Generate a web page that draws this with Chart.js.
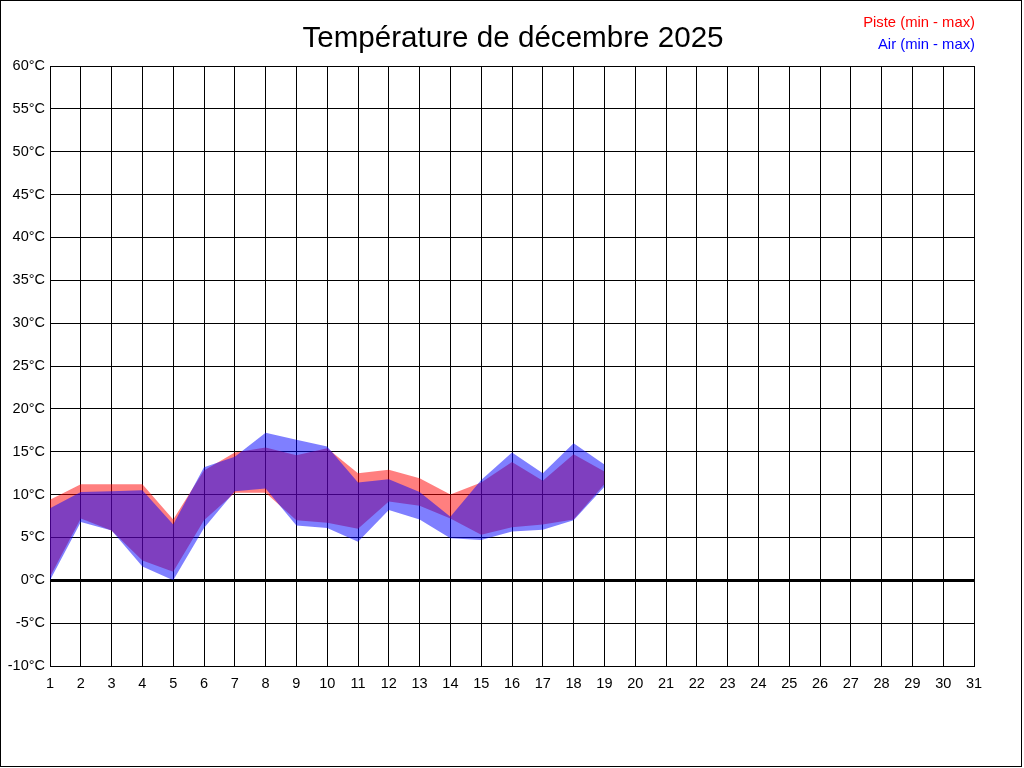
<!DOCTYPE html>
<html>
<head>
<meta charset="utf-8">
<title>Température de décembre 2025</title>
<script src="https://cdn.jsdelivr.net/npm/chart.js@4.4.1/dist/chart.umd.min.js"></script>
<style>
  html, body { margin: 0; padding: 0; background: #fff; overflow: hidden; }
  canvas { display: block; }
</style>
</head>
<body>
<canvas id="tempChart" width="1024" height="768"></canvas>
<script>
// days of the month (x axis)
var days = [];
for (var d = 1; d <= 31; d++) { days.push(String(d)); }

// values, days 1..19
var pisteMin = [0.4, 7.2, 5.8, 2.3, 1.0, 7.0, 10.2, 10.2, 7.0, 6.7, 6.0, 9.2, 8.7, 7.2, 5.3, 6.2, 6.5, 7.1, 11.2];
var pisteMax = [9.4, 11.2, 11.2, 11.2, 7.1, 12.8, 14.9, 15.5, 14.6, 15.4, 12.5, 12.9, 11.9, 10.0, 11.4, 13.8, 11.6, 14.7, 12.7];
var airMin   = [0.0, 6.8, 5.8, 1.6, 0.0, 6.1, 10.4, 10.7, 6.4, 6.1, 4.5, 8.2, 7.1, 4.9, 4.7, 5.7, 5.9, 7.0, 10.9];
var airMax   = [8.4, 10.3, 10.4, 10.5, 6.5, 13.2, 14.4, 17.2, 16.4, 15.6, 11.4, 11.8, 10.3, 7.4, 11.7, 14.9, 12.5, 16.0, 13.5];

var title = 'Température de décembre 2025';
var legendPiste = 'Piste (min - max)';
var legendAir = 'Air (min - max)';

var fontFamily = '"Liberation Sans", Arial, sans-serif';

// title, legend texts and outer frame
var decorPlugin = {
    id: 'decor',
    beforeDraw: function(chart) {
        var ctx = chart.ctx;
        ctx.save();
        ctx.fillStyle = '#fff';
        ctx.fillRect(0, 0, chart.width, chart.height);
        ctx.restore();
    },
    afterDraw: function(chart) {
        var ctx = chart.ctx;
        ctx.save();
        ctx.fillStyle = '#000';
        ctx.font = '29.6px ' + fontFamily;
        ctx.textAlign = 'center';
        ctx.textBaseline = 'alphabetic';
        ctx.fillText(title, 513, 47);

        ctx.font = '14.8px ' + fontFamily;
        ctx.textAlign = 'right';
        ctx.fillStyle = '#ff0000';
        ctx.fillText(legendPiste, 975, 27);
        ctx.fillStyle = '#0000ff';
        ctx.fillText(legendAir, 975, 49);

        ctx.strokeStyle = '#000';
        ctx.lineWidth = 1;
        ctx.strokeRect(0.5, 0.5, 1021, 766);
        ctx.restore();
    }
};

function band(data, color, fill) {
    return {
        data: data,
        borderWidth: 0,
        borderColor: 'rgba(0,0,0,0)',
        backgroundColor: color,
        pointRadius: 0,
        pointHoverRadius: 0,
        tension: 0,
        fill: fill
    };
}

var config = {
    type: 'line',
    data: {
        labels: days,
        datasets: [
            // air drawn on top of piste
            band(airMin, 'rgba(0,0,0,0)', false),
            band(airMax, 'rgba(0,0,255,0.5)', '-1'),
            band(pisteMin, 'rgba(0,0,0,0)', false),
            band(pisteMax, 'rgba(255,0,0,0.5)', '-1')
        ]
    },
    options: {
        responsive: false,
        animation: false,
        events: [],
        layout: {
            padding: { left: 0, right: 50, top: 66, bottom: 0 }
        },
        plugins: {
            legend: { display: false },
            title: { display: false },
            tooltip: { enabled: false }
        },
        scales: {
            x: {
                offset: false,
                afterFit: function(scale) { scale.height = 102; },
                grid: {
                    color: '#000',
                    lineWidth: 1,
                    drawTicks: false
                },
                border: { display: true, color: '#000', width: 1 },
                ticks: {
                    color: '#000',
                    padding: 9,
                    maxRotation: 0,
                    autoSkip: false,
                    font: { family: fontFamily, size: 14.5 }
                }
            },
            y: {
                min: -10,
                max: 60,
                afterFit: function(scale) { scale.width = 50; },
                grid: {
                    color: '#000',
                    lineWidth: function(c) { return c.tick && c.tick.value === 0 ? 3 : 1; },
                    drawTicks: false
                },
                border: { display: true, color: '#000', width: 1 },
                ticks: {
                    stepSize: 5,
                    color: '#000',
                    padding: 5,
                    font: { family: fontFamily, size: 14.5 },
                    callback: function(v) { return v + '°C'; }
                }
            }
        }
    },
    plugins: [decorPlugin]
};

var tempChart = new Chart(document.getElementById('tempChart').getContext('2d'), config);
</script>
</body>
</html>
